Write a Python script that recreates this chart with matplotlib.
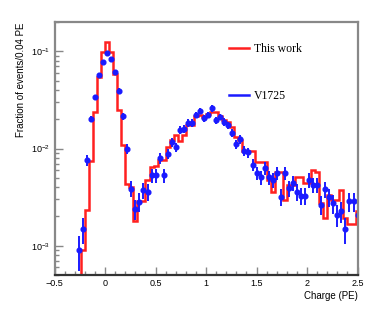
import numpy as np
import matplotlib
matplotlib.use("Agg")
import matplotlib.pyplot as plt
from matplotlib.lines import Line2D
from matplotlib.ticker import MultipleLocator, LogLocator, NullFormatter

# bin edges of both histograms (0.04 PE bins)
edges = np.round(np.arange(-0.52, 2.5201, 0.04), 2)

# "This work" histogram, one value per bin (0 = empty)
this_work = [
    0, 0, 0, 0, 0, 0, 0,
    9.0e-4, 2.32e-3, 7.4e-3, 0.0237, 0.054, 0.0977, 0.124, 0.0977, 0.0585,
    0.0247, 0.0108, 4.3e-3, 4.0e-3, 1.80e-3, 2.9e-3, 2.9e-3, 4.75e-3, 6.5e-3,
    6.6e-3, 7.6e-3, 7.6e-3, 0.0104, 0.0122, 0.0137, 0.0120, 0.0139, 0.0174,
    0.0174, 0.0216, 0.0221, 0.0209, 0.0226, 0.0235, 0.0235, 0.0216, 0.0196,
    0.0188, 0.0168, 0.0132, 0.0122, 9.5e-3, 9.5e-3, 9.5e-3, 7.3e-3, 7.3e-3,
    7.3e-3, 4.75e-3, 3.6e-3, 5.8e-3, 5.8e-3, 2.96e-3, 4.23e-3, 4.23e-3,
    5.14e-3, 5.14e-3, 4.4e-3, 4.4e-3, 6.0e-3, 5.8e-3, 2.74e-3, 1.92e-3,
    3.33e-3, 2.96e-3, 2.96e-3, 3.75e-3, 1.92e-3, 1.67e-3, 1.67e-3, 2.25e-3,
]

# V1725 data points
v1725_x = np.round(np.arange(-0.26, 2.5001, 0.04), 2)
v1725_y = [
    9.0e-4, 1.48e-3, 7.56e-3, 0.0202, 0.0337, 0.0577, 0.078, 0.0953, 0.0828,
    0.062, 0.0395, 0.0214, 9.95e-3, 3.87e-3, 2.38e-3, 2.83e-3, 3.72e-3,
    3.58e-3, 5.31e-3, 5.31e-3, 8.0e-3, 5.31e-3, 8.85e-3, 0.0117, 0.0103,
    0.0155, 0.0159, 0.0184, 0.0184, 0.0221, 0.0243, 0.0204, 0.0221, 0.0259,
    0.0196, 0.0212, 0.0188, 0.0174, 0.0145, 0.0111, 0.0124, 9.5e-3, 9.1e-3,
    6.8e-3, 5.56e-3, 5.06e-3, 6.27e-3, 5.06e-3, 4.75e-3, 5.56e-3, 3.2e-3,
    5.56e-3, 3.9e-3, 4.4e-3, 3.6e-3, 3.26e-3, 3.26e-3, 4.75e-3, 4.23e-3,
    4.23e-3, 2.64e-3, 3.81e-3, 3.16e-3, 2.74e-3, 2.08e-3, 2.25e-3, 1.48e-3,
    2.85e-3, 2.85e-3, 2.08e-3,
]
n_events = 7500  # rough event count, for Poisson error bars

ymin, ymax = 5e-4, 0.2
frame_col = "#888888"
red = "#ff2020"
blue = "#1a1aff"

fig = plt.figure(figsize=(3.74, 3.16), dpi=100)
ax = fig.add_axes([0.146, 0.130, 0.810, 0.800])

h = np.array(this_work, dtype=float)
h_draw = np.where(h > 0, h, ymin)
ax.stairs(h_draw, edges, color=red, lw=1.8, baseline=None)

vy = np.array(v1725_y)
verr = np.sqrt(vy / n_events)
lo = np.minimum(verr, vy - 1e-6)
ax.errorbar(v1725_x, vy, yerr=[lo, verr], xerr=0.012, fmt="o", ms=3.4,
            color=blue, mec=blue, elinewidth=1.4, capsize=0)

ax.set_yscale("log")
ax.set_xlim(-0.5, 2.5)
ax.set_ylim(ymin, ymax)

ax.xaxis.set_major_locator(MultipleLocator(0.5))
ax.xaxis.set_minor_locator(MultipleLocator(0.1))
ax.yaxis.set_major_locator(LogLocator(base=10, numticks=10))
ax.yaxis.set_minor_locator(LogLocator(base=10, subs=np.arange(2, 10), numticks=20))
ax.yaxis.set_minor_formatter(NullFormatter())
ax.set_xticks([-0.5, 0, 0.5, 1, 1.5, 2, 2.5])
ax.set_xticklabels(["\u22120.5", "0", "0.5", "1", "1.5", "2", "2.5"])

ax.tick_params(which="both", direction="in", top=False, right=False,
               labelsize=6.5, colors="black", pad=3)
ax.tick_params(which="major", length=6, width=1, color=frame_col)
ax.tick_params(which="minor", length=3, width=1, color=frame_col)
for s in ax.spines.values():
    s.set_color(frame_col)
    s.set_linewidth(1.6)
ax.spines["bottom"].set_color("#333333")

for lab in ax.get_xticklabels() + ax.get_yticklabels():
    lab.set_family("Liberation Sans")

ax.set_xlabel("Charge (PE)", loc="right", fontsize=7, family="Liberation Sans", labelpad=2)
ax.set_ylabel("Fraction of events/0.04 PE", loc="top", fontsize=7,
              family="Liberation Sans", labelpad=4)

handles = [Line2D([], [], color=red, lw=1.8), Line2D([], [], color=blue, lw=1.8)]
ax.legend(handles, ["This work", "V1725"], loc="upper left",
          bbox_to_anchor=(0.54, 0.96), frameon=False,
          prop={"family": "Liberation Serif", "size": 8.5},
          labelspacing=3.0, handlelength=1.7, handletextpad=0.4)

fig.savefig("out.png", dpi=100)
